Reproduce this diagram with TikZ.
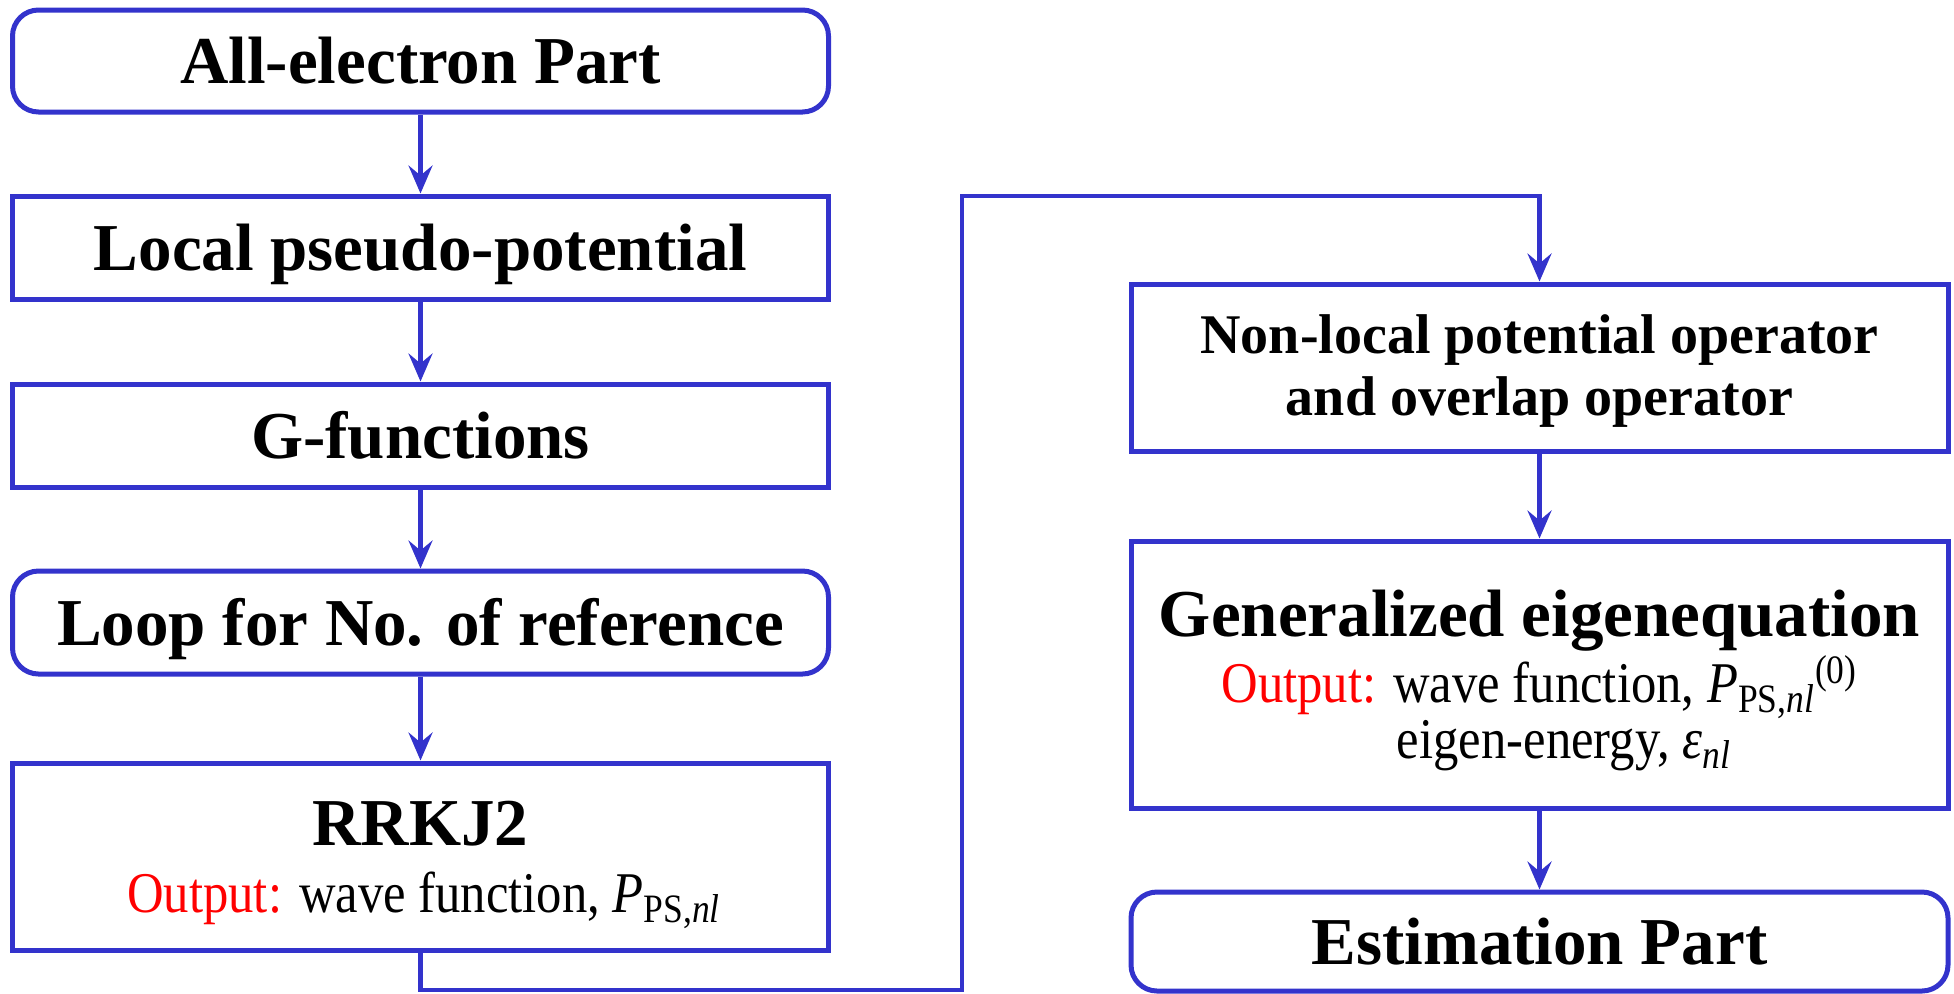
\documentclass[tikz,border=0pt]{standalone}
\usepackage{fontspec}
\setmainfont{Liberation Serif}
\newfontfamily\outfont{Liberation Serif}[FakeStretch=0.88]
\usetikzlibrary{arrows.meta}
\definecolor{flowblue}{RGB}{51,51,204}
\definecolor{outred}{RGB}{255,0,0}
\begin{document}
\begin{tikzpicture}[x=0.5pt,y=-0.5pt,
  box/.style={draw=flowblue, line width=2.5pt, minimum width=408pt, inner sep=0pt, fill=white},
  roundbox/.style={box, rounded corners=13pt},
  conn/.style={draw=flowblue, line width=2.1pt, -{Stealth[length=14pt,width=12pt,inset=5pt]}},
  title/.style={font=\fontsize{33.5}{38}\selectfont\bfseries, anchor=base, inner sep=0pt},
  midtitle/.style={font=\fontsize{28}{32}\selectfont\bfseries, anchor=base, inner sep=0pt},
  outtext/.style={font=\outfont\fontsize{28.8}{32}\selectfont, anchor=base, inner sep=0pt}
]
\useasboundingbox (0,0) rectangle (1954,993);

% left column boxes
\node[roundbox, minimum height=51pt] (b1) at (420.5,61) {};
\node[box, minimum height=51.5pt] (b2) at (420.5,247.5) {};
\node[box, minimum height=51.5pt] (b3) at (420.5,435.5) {};
\node[roundbox, minimum height=51.5pt] (b4) at (420.5,622.5) {};
\node[box, minimum height=93.5pt] (b5) at (420.5,856.5) {};

% right column boxes
\node[box, minimum width=408.5pt, minimum height=83.5pt] (b6) at (1539.5,367.5) {};
\node[box, minimum width=408.5pt, minimum height=133.5pt] (b7) at (1539.5,674.5) {};
\node[roundbox, minimum width=408.5pt, minimum height=49.5pt] (b8) at (1539.5,941.5) {};

% texts
\node[title] (t1) at (420.5,83) {All-electron Part};
\node[title] (t2) at (420.5,270) {Local pseudo-potential};
\node[title] (t3) at (420.5,458) {G-functions};
\node[title] (t4) at (420.5,645) {Loop for No. of reference};
\node[title] (t5) at (420.5,845) {RRKJ2};
\node[outtext] (t5b) at (424,912) {\textcolor{outred}{Output:} wave function, \textit{P}\textsubscript{PS,\textit{nl}}};

\node[midtitle] (t6a) at (1539.5,353) {Non-local potential operator};
\node[midtitle] (t6b) at (1539.5,415) {and overlap operator};
\node[title] (t7a) at (1539.5,636) {Generalized eigenequation};
\node[outtext] (t7b) at (1539.5,702) {\textcolor{outred}{Output:} wave function, \textit{P}\textsubscript{PS,\textit{nl}}\textsuperscript{(0)}};
\node[outtext] (t7c) at (1564,758) {eigen-energy, \textit{ε}\textsubscript{\textit{nl}}};
\node[title] (t8) at (1539.5,964) {Estimation Part};

% connectors
\draw[conn] (b1.south) -- (b2.north);
\draw[conn] (b2.south) -- (b3.north);
\draw[conn] (b3.south) -- (b4.north);
\draw[conn] (b4.south) -- (b5.north);
\coordinate (c1) at (420.5,990);
\coordinate (c2) at (962,990);
\coordinate (c3) at (962,196);
\coordinate (c4) at (1539.5,196);
\draw[conn] (b5.south) -- (c1) -- (c2) -- (c3) -- (c4) -- (b6.north);
\draw[conn] (b6.south) -- (b7.north);
\draw[conn] (b7.south) -- (b8.north);
\end{tikzpicture}
\end{document}
